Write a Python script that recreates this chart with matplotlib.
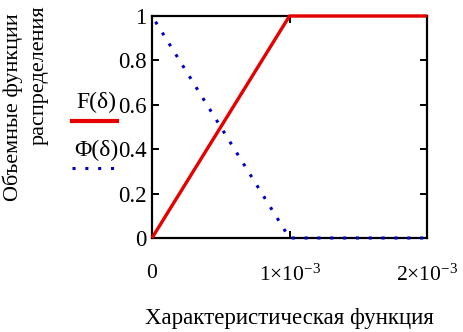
import matplotlib
matplotlib.use("Agg")
import matplotlib.pyplot as plt
from matplotlib.lines import Line2D

plt.rcParams['font.family'] = ['Liberation Serif', 'DejaVu Serif']
plt.rcParams['mathtext.fontset'] = 'custom'
plt.rcParams['mathtext.rm'] = 'Liberation Serif'
plt.rcParams['mathtext.it'] = 'Liberation Serif:italic'

# Data
delta = [0.0, 1e-3, 2e-3]
F_vals = [0.0, 1.0, 1.0]
Phi_vals = [1.0, 0.0, 0.0]
xticks = [0, 1e-3, 2e-3]
xticklabels = ['0', r'$\mathrm{1{\times}10^{-3}}$', r'$\mathrm{2{\times}10^{-3}}$']
yticks = [0, 0.2, 0.4, 0.6, 0.8, 1]
yticklabels = ['0', '0.2', '0.4', '0.6', '0.8', '1']

fig = plt.figure(figsize=(4.64, 3.32), dpi=100)
ax = fig.add_axes([152/464, 1-238/332, (427-152)/464, (238-16)/332])

ax.plot(delta, Phi_vals, color='#0000c8', linestyle=(2, (1, 3.2)), linewidth=2.2,
        clip_on=False, zorder=4)
ax.plot(delta, F_vals, color='#e60000', linewidth=2.4, solid_capstyle='butt',
        clip_on=False, zorder=5)

ax.set_xlim(0, 2e-3)
ax.set_ylim(0, 1)
ax.set_xticks(xticks)
ax.set_xticklabels(xticklabels, fontsize=15.5)
ax.set_yticks(yticks)
ax.set_yticklabels(yticklabels, fontsize=16.5)
ax.tick_params(axis='x', direction='in', length=5, width=1.4, top=True, pad=19, color='black')
ax.tick_params(axis='y', direction='in', length=5, width=1.4, right=True, pad=4, color='black')
for s in ax.spines.values():
    s.set_linewidth(1.6)
ax.set_xlabel('Характеристическая функция', fontsize=16.5, labelpad=16)

fig.text(13/464, 1-201/332, 'Объемные функции', rotation=90, fontsize=16,
         ha='center', va='bottom')
fig.text(39/464, 1-145/332, 'распределения', rotation=90, fontsize=16,
         ha='center', va='bottom')

# Legend
fig.text(96/464, 1-102/332, 'F(δ)', fontsize=17, ha='center', va='center')
fig.add_artist(Line2D([72/464, 117/464], [1-121/332, 1-121/332], color='#e60000',
                      linewidth=3, transform=fig.transFigure))
fig.text(96/464, 1-150/332, 'Φ(δ)', fontsize=17, ha='center', va='center')
fig.add_artist(Line2D([72/464, 117/464], [1-168/332, 1-168/332], color='#0000c8',
                      linewidth=2.2, linestyle=(0, (1, 3.2)), transform=fig.transFigure))

fig.savefig('out.png', dpi=100)
